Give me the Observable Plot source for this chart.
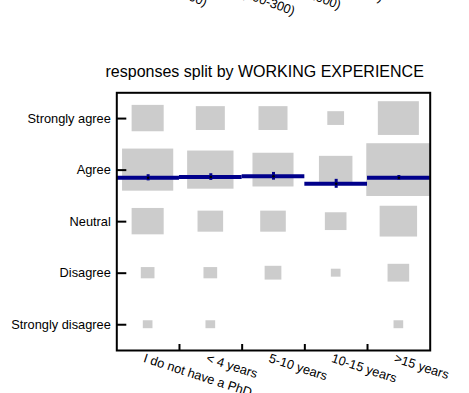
<!DOCTYPE html>
<html><head><meta charset="utf-8">
<script src="https://cdn.jsdelivr.net/npm/d3@7"></script>
<script src="https://cdn.jsdelivr.net/npm/@observablehq/plot@0.6"></script>
<style>html,body{margin:0;padding:0;background:#fff;} #chart svg{display:block}</style>
</head><body><div id="chart"></div>
<script>
// ---- data ----
const experience = ["I do not have a PhD", "< 4 years", "5-10 years", "10-15 years", ">15 years"];
// response levels, scored 1 (bottom) .. 5 (top)
const responses = ["Strongly disagree", "Disagree", "Neutral", "Agree", "Strongly agree"];
// number of answers per experience group
const countsStronglyDisagree = [1, 1, 0, 0, 1];
const countsDisagree        = [2, 2, 3, 1, 5];
const countsNeutral         = [11, 7, 7, 5, 15];
const countsAgree           = [28, 23, 18, 12, 44];
const countsStronglyAgree   = [11, 9, 9, 3, 18];
// mean score and its standard error per group (blue lines)
const meanScore = [3.851, 3.865, 3.880, 3.734, 3.851];
const stdError  = [0.06, 0.065, 0.075, 0.087, 0.045];
// tick labels of the panel above (only their tails show)
const upperPanelLabels = ["tiny (<100)", "large (100-300)", "(300 - 1000)", "(> 1000)", "(no)"];
const titleText = ["responses split by WORKING EXPERIENCE"];

// ---- tables ----
const countsByLevel = [countsStronglyDisagree, countsDisagree, countsNeutral, countsAgree, countsStronglyAgree];
const refCount = 42; // count that fills one full cell
const cells = [];
countsByLevel.forEach((arr, r) => arr.forEach((n, i) => {
  if (n > 0) cells.push({x: i + 1, y: r + 1, n, f: Math.sqrt(n / refCount)});
}));
const stats = experience.map((e, i) => ({x: i + 1, mean: meanScore[i], se: stdError[i]}));
const boundaries = experience.slice(1).map((_, i) => i + 1.5);
const levels = responses.map((_, i) => i + 1);

const font = "'Liberation Sans', Arial, Helvetica, sans-serif";
const blue = "#00008B";

const chart = Plot.plot({
  width: 469, height: 393,
  marginLeft: 116.3, marginRight: 39.3, marginTop: 92.3, marginBottom: 43,
  style: {fontFamily: font, fontSize: "12.8px", background: "#fff", overflow: "visible", color: "#000"},
  x: {domain: [0.5, 5.5], axis: null},
  y: {domain: [0.5, 5.5], axis: null},
  marks: [
    Plot.rect(cells, {x1: d => d.x - d.f / 2, x2: d => d.x + d.f / 2, y1: d => d.y - d.f / 2, y2: d => d.y + d.f / 2, fill: "#cccccc"}),
    Plot.ruleY(stats, {y: "mean", x1: d => d.x - 0.5, x2: d => d.x + 0.5, stroke: blue, strokeWidth: 4}),
    Plot.ruleX(stats, {x: "x", y1: d => d.mean - d.se, y2: d => d.mean + d.se, stroke: blue, strokeWidth: 3}),
    Plot.dot(stats, {x: "x", y: "mean", r: 1.3, fill: "#000", stroke: null}),
    Plot.frame({stroke: "#000", strokeWidth: 2}),
    Plot.axisY({anchor: "left", label: null, ticks: levels, tickFormat: d => responses[d - 1], tickSize: -10, tickPadding: 16, strokeWidth: 2, fontSize: 12.8, fill: "#000"}),
    Plot.axisX({anchor: "bottom", label: null, ticks: boundaries, tickFormat: () => "", tickSize: -6, strokeWidth: 2}),
    Plot.text(experience, {x: (d, i) => i + 1, frameAnchor: "bottom", text: d => d, rotate: 18, textAnchor: "start", lineAnchor: "top", dx: -2.6, dy: 2.7, fontSize: 12.8, fill: "#000"}),
    Plot.text(upperPanelLabels, {x: (d, i) => i + 1, frameAnchor: "top", text: d => d, rotate: 20, textAnchor: "start", lineAnchor: "bottom", dy: -107.3, fontSize: 12.8, fill: "#000"}),
    Plot.text(titleText, {frameAnchor: "top-left", text: d => d, textAnchor: "start", lineAnchor: "bottom", dx: -11.3, dy: -15.6, fontSize: 16, fill: "#000"})
  ]
});
document.getElementById("chart").appendChild(chart);
</script>
</body></html>
